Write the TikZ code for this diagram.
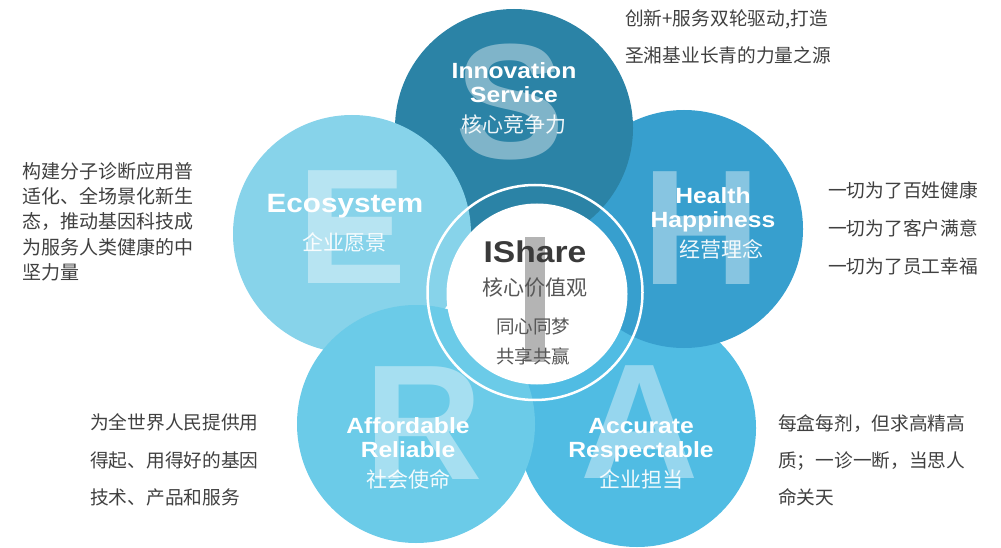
\documentclass[tikz,border=0pt]{standalone}
\usepackage{fontspec}
\setmainfont{Liberation Sans}
\newfontfamily\cjk{Noto Sans CJK SC}
\newfontfamily\wideb[FakeStretch=1.12]{Liberation Sans Bold}
\newfontfamily\letterf{Liberation Sans Bold}
\definecolor{cS}{HTML}{2B83A6}
\definecolor{cH}{HTML}{379FCE}
\definecolor{cE}{HTML}{87D3EA}
\definecolor{cR}{HTML}{6BCBE8}
\definecolor{cA}{HTML}{50BCE3}
\definecolor{txt}{HTML}{404040}
\definecolor{ctxt}{HTML}{3A3A3A}
\definecolor{ibar}{HTML}{B4B4B4}
\begin{document}
\begin{tikzpicture}[x=1pt,y=-1pt,
  petal/.style={circle, minimum size=238pt, inner sep=0pt, draw=none},
  bigletter/.style={inner sep=0pt, text=white, text opacity=0.4, font=\letterf\fontsize{164}{164}\selectfont},
  entitle/.style={anchor=base, inner sep=0pt, text=white, font=\wideb\fontsize{22}{24}\selectfont},
  cnsub/.style={anchor=base, inner sep=0pt, text=white, text opacity=0.92, font=\cjk\fontsize{21}{22}\selectfont},
  sideline/.style={anchor=base west, inner sep=0pt, text=txt, font=\cjk\fontsize{18.7}{20}\selectfont},
  leftline/.style={anchor=base west, inner sep=0pt, text=txt, font=\cjk\fontsize{19}{20}\selectfont}
]
\useasboundingbox (0,0) rectangle (1001,548);

% petals, bottom to top
\node[petal, fill=cA] (pA) at (637,428) {};
\node[bigletter] (lA) at (640,422) {A};
\node[petal, fill=cH] (pH) at (684,229) {};
\node[bigletter] (lH) at (702,228) {H};
\node[petal, fill=cS] (pS) at (514,128) {};
\node[bigletter] (lS) at (510,102) {S};
\node[petal, fill=cE] (pE) at (352,234) {};
\node[bigletter] (lE) at (352,227) {E};
\node[petal, fill=cR] (pR) at (416,424) {};
\node[bigletter] (lR) at (424,423) {R};

% petal texts
\node[entitle] (tS1) at (514,79) {Innovation};
\node[entitle] (tS2) at (514,103) {Service};
\node[cnsub] (tS3) at (514,133) {核心竞争力};

\node[entitle] (tH1) at (713,204) {Health};
\node[entitle] (tH2) at (713,228) {Happiness};
\node[cnsub] (tH3) at (721,258) {经营理念};

\node[entitle, font=\wideb\fontsize{26.5}{28}\selectfont] (tE1) at (345,212) {Ecosystem};
\node[cnsub] (tE2) at (344,250) {企业愿景};

\node[entitle] (tR1) at (408,433) {Affordable};
\node[entitle] (tR2) at (408,457) {Reliable};
\node[cnsub] (tR3) at (408,487) {社会使命};

\node[entitle] (tA1) at (641,433) {Accurate};
\node[entitle] (tA2) at (641,457) {Respectable};
\node[cnsub] (tA3) at (641,487) {企业担当};

% centre
\node[circle, draw=white, line width=2.5pt, minimum size=215pt, inner sep=0pt] (ring) at (535,292.5) {};
\node[circle, fill=white, minimum size=181pt, inner sep=0pt] (core) at (537,294) {};
\fill[ibar] (525,237) rectangle (545,362);
\node[anchor=base, inner sep=0pt, text=ctxt, font=\wideb\fontsize{30}{32}\selectfont] (cI) at (535,262) {IShare};
\node[anchor=base, inner sep=0pt, text=ctxt!85!white, font=\cjk\fontsize{21}{22}\selectfont] (cV) at (535,295) {核心价值观};
\node[anchor=base, inner sep=0pt, text=ctxt!85!white, font=\cjk\fontsize{18.5}{20}\selectfont] (cT1) at (533,333) {同心同梦};
\node[anchor=base, inner sep=0pt, text=ctxt!85!white, font=\cjk\fontsize{18.5}{20}\selectfont] (cT2) at (533,363) {共享共赢};

% side texts
\node[sideline] (s1a) at (625,26) {创新+服务双轮驱动,打造};
\node[sideline] (s1b) at (625,63) {圣湘基业长青的力量之源};

\node[sideline] (s2a) at (828,197) {一切为了百姓健康};
\node[sideline] (s2b) at (828,236) {一切为了客户满意};
\node[sideline] (s2c) at (828,273) {一切为了员工幸福};

\node[leftline] (s3a) at (22,179) {构建分子诊断应用普};
\node[leftline] (s3b) at (22,204) {适化、全场景化新生};
\node[leftline] (s3c) at (22,229) {态，推动基因科技成};
\node[leftline] (s3d) at (22,254) {为服务人类健康的中};
\node[leftline] (s3e) at (22,279) {坚力量};

\node[sideline] (s4a) at (90,429) {为全世界人民提供用};
\node[sideline] (s4b) at (90,467) {得起、用得好的基因};
\node[sideline] (s4c) at (90,504) {技术、产品和服务};

\node[sideline] (s5a) at (778,430) {每盒每剂，但求高精高};
\node[sideline] (s5b) at (778,467) {质；一诊一断，当思人};
\node[sideline] (s5c) at (778,504) {命关天};
\end{tikzpicture}
\end{document}
